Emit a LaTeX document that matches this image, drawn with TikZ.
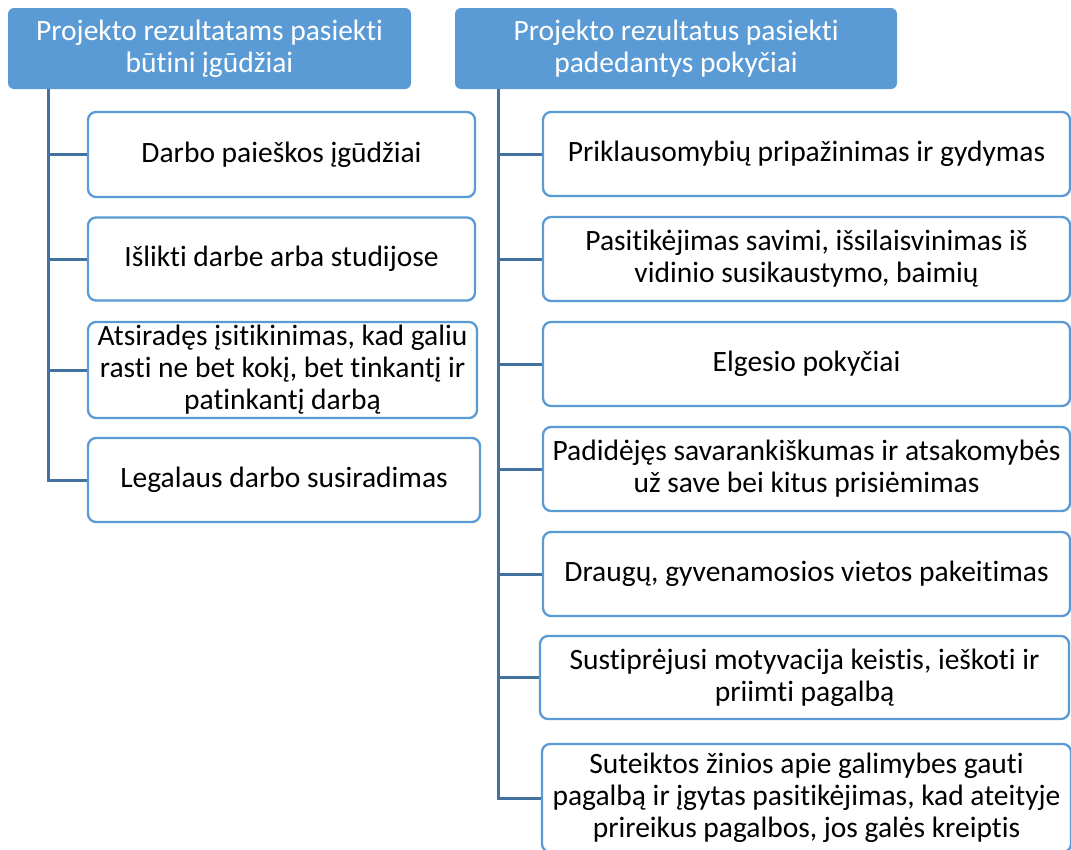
\documentclass[tikz,border=0pt]{standalone}
\usepackage{fontspec}
\setmainfont[Ligatures=NoCommon]{Carlito}
\begin{document}
\begin{tikzpicture}[x=1pt,y=-1pt]
\newcommand{\lcol}{281.5}
\newcommand{\rcol}{806.5}
\definecolor{headcolor}{RGB}{91,155,213}
\definecolor{framecolor}{RGB}{91,155,213}
\definecolor{trunkcolor}{RGB}{65,113,156}
\tikzstyle{txt}=[font=\fontsize{29.5}{32}\selectfont,align=center,inner sep=0pt]
\tikzstyle{head}=[txt,rectangle,fill=headcolor,text=white,rounded corners=6pt,minimum height=81pt]
\tikzstyle{item}=[txt,rectangle,draw=framecolor,line width=2.3pt,fill=white,rounded corners=8pt]
\tikzstyle{trunk}=[trunkcolor,line width=3pt]
\useasboundingbox (0,0) rectangle (1071,849);
\node[head,minimum width=403pt] (0) at (209.5,48.5) {Projekto rezultatams pasiekti\\būtini įgūdžiai};
\node[item,minimum width=387pt,minimum height=85pt] (1) at (\lcol,154.5) {Darbo paieškos įgūdžiai};
\node[item,minimum width=387pt,minimum height=83pt] (2) at (\lcol,259) {Išlikti darbe arba studijose};
\node[item,minimum width=389pt,minimum height=96pt] (3) at (282.5,370) {Atsiradęs įsitikinimas, kad galiu\\rasti ne bet kokį, bet tinkantį ir\\patinkantį darbą};
\node[item,minimum width=392pt,minimum height=84pt] (4) at (284,480) {Legalaus darbo susiradimas};
\node[head,minimum width=442pt] (5) at (676,48.5) {Projekto rezultatus pasiekti\\padedantys pokyčiai};
\node[item,minimum width=527pt,minimum height=84pt] (6) at (\rcol,154) {Priklausomybių pripažinimas ir gydymas};
\node[item,minimum width=527pt,minimum height=84pt] (7) at (\rcol,259) {Pasitikėjimas savimi, išsilaisvinimas iš\\vidinio susikaustymo, baimių};
\node[item,minimum width=527pt,minimum height=84pt] (8) at (\rcol,364) {Elgesio pokyčiai};
\node[item,minimum width=527pt,minimum height=84pt] (9) at (\rcol,469) {Padidėjęs savarankiškumas ir atsakomybės\\už save bei kitus prisiėmimas};
\node[item,minimum width=527pt,minimum height=84pt] (10) at (\rcol,574) {Draugų, gyvenamosios vietos pakeitimas};
\node[item,minimum width=529pt,minimum height=83pt] (11) at (804.5,677.5) {Sustiprėjusi motyvacija keistis, ieškoti ir\\priimti pagalbą};
\node[item,minimum width=529pt,minimum height=108pt] (12) at (\rcol,798) {Suteiktos žinios apie galimybes gauti\\pagalbą ir įgytas pasitikėjimas, kad ateityje\\prireikus pagalbos, jos galės kreiptis};
\coordinate (ltop) at (48,89);
\coordinate (rtop) at (498,89);
\draw[trunk] (ltop) |- (4.west);
\draw[trunk] (ltop |- 1.west) -- (1.west);
\draw[trunk] (ltop |- 2.west) -- (2.west);
\draw[trunk] (ltop |- 3.west) -- (3.west);
\draw[trunk] (rtop) |- (12.west);
\draw[trunk] (rtop |- 6.west) -- (6.west);
\draw[trunk] (rtop |- 7.west) -- (7.west);
\draw[trunk] (rtop |- 8.west) -- (8.west);
\draw[trunk] (rtop |- 9.west) -- (9.west);
\draw[trunk] (rtop |- 10.west) -- (10.west);
\draw[trunk] (rtop |- 11.west) -- (11.west);
\end{tikzpicture}
\end{document}
